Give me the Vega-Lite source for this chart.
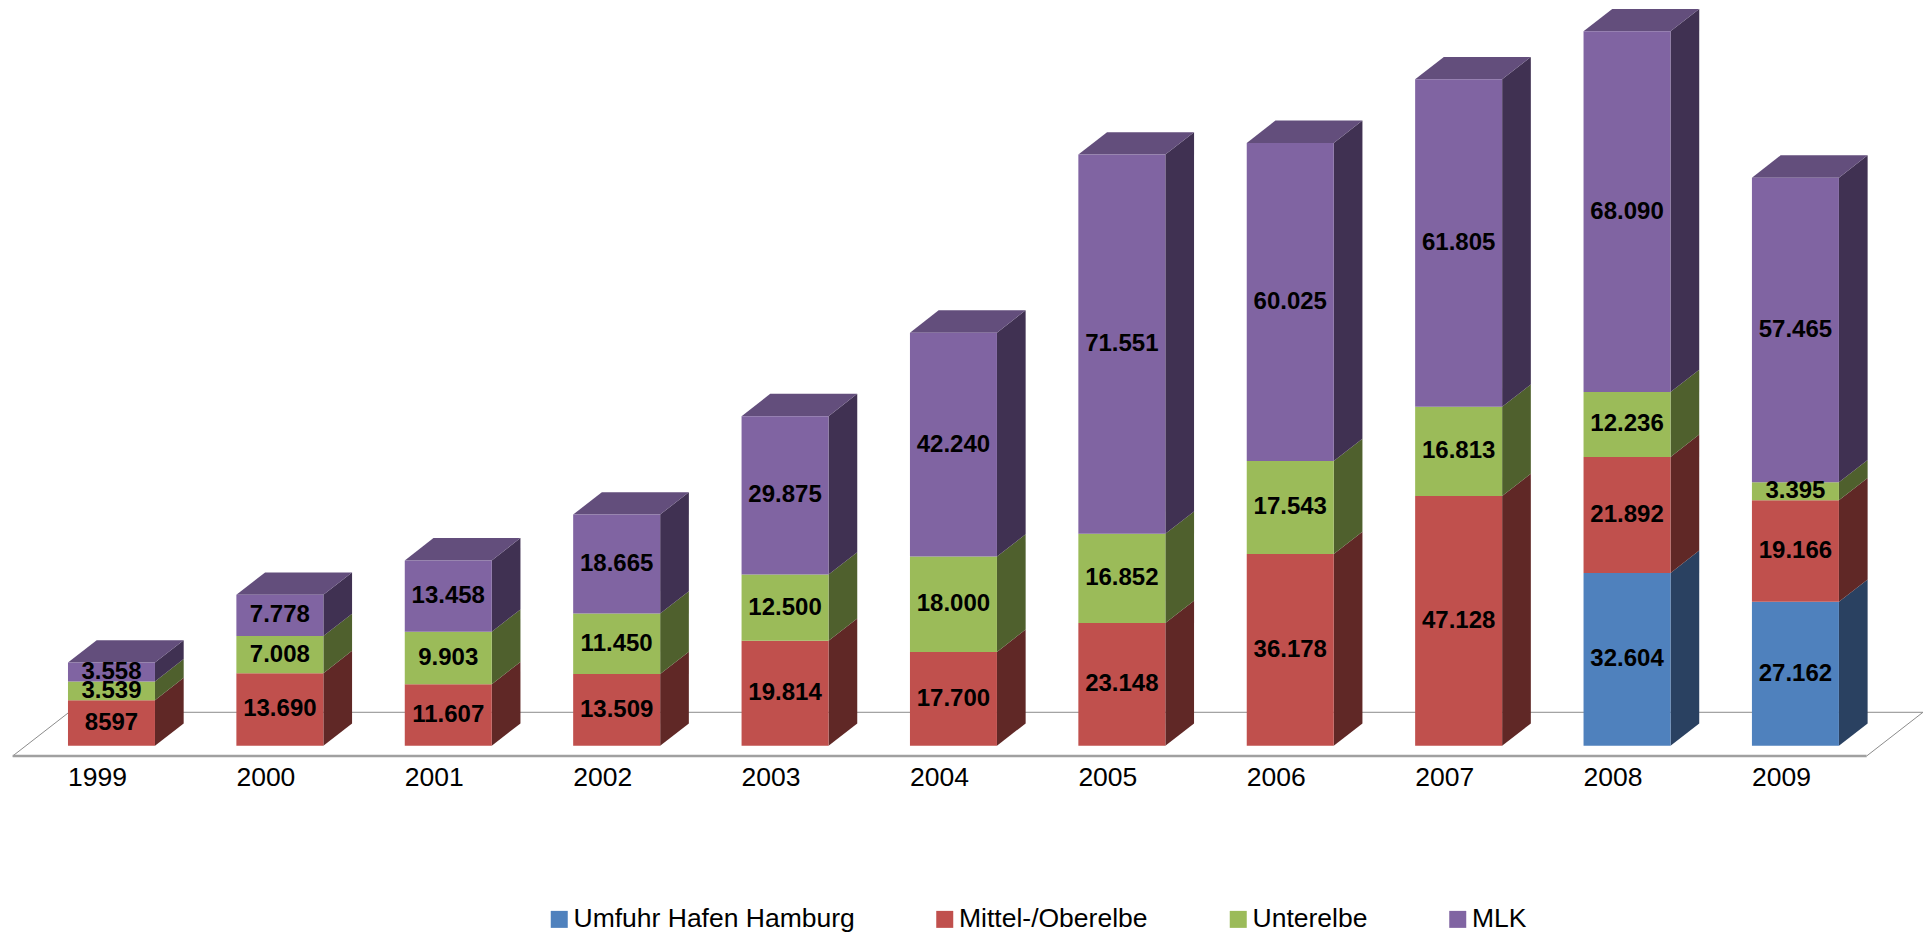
{"$schema":"https://vega.github.io/schema/vega-lite/v6.json","width":1932,"height":756,"autosize":{"type":"none"},"padding":{"left":0,"top":0,"right":0,"bottom":180},"background":"white","config":{"view":{"stroke":null},"font":"Liberation Sans","axisX":{"domain":false,"ticks":false,"grid":false,"labelFontSize":26.5,"labelColor":"black","labelFont":"Liberation Sans","labelOffset":-14.5,"labelPadding":8.5,"labelFlush":false,"labelOverlap":false}},
"datasets":{"rows":[
{"year":1999,"series":"Mittel-/Oberelbe","value":8597,"label":"8597"},{"year":1999,"series":"Unterelbe","value":3539,"label":"3.539"},{"year":1999,"series":"MLK","value":3558,"label":"3.558"},
{"year":2000,"series":"Mittel-/Oberelbe","value":13690,"label":"13.690"},{"year":2000,"series":"Unterelbe","value":7008,"label":"7.008"},{"year":2000,"series":"MLK","value":7778,"label":"7.778"},
{"year":2001,"series":"Mittel-/Oberelbe","value":11607,"label":"11.607"},{"year":2001,"series":"Unterelbe","value":9903,"label":"9.903"},{"year":2001,"series":"MLK","value":13458,"label":"13.458"},
{"year":2002,"series":"Mittel-/Oberelbe","value":13509,"label":"13.509"},{"year":2002,"series":"Unterelbe","value":11450,"label":"11.450"},{"year":2002,"series":"MLK","value":18665,"label":"18.665"},
{"year":2003,"series":"Mittel-/Oberelbe","value":19814,"label":"19.814"},{"year":2003,"series":"Unterelbe","value":12500,"label":"12.500"},{"year":2003,"series":"MLK","value":29875,"label":"29.875"},
{"year":2004,"series":"Mittel-/Oberelbe","value":17700,"label":"17.700"},{"year":2004,"series":"Unterelbe","value":18000,"label":"18.000"},{"year":2004,"series":"MLK","value":42240,"label":"42.240"},
{"year":2005,"series":"Mittel-/Oberelbe","value":23148,"label":"23.148"},{"year":2005,"series":"Unterelbe","value":16852,"label":"16.852"},{"year":2005,"series":"MLK","value":71551,"label":"71.551"},
{"year":2006,"series":"Mittel-/Oberelbe","value":36178,"label":"36.178"},{"year":2006,"series":"Unterelbe","value":17543,"label":"17.543"},{"year":2006,"series":"MLK","value":60025,"label":"60.025"},
{"year":2007,"series":"Mittel-/Oberelbe","value":47128,"label":"47.128"},{"year":2007,"series":"Unterelbe","value":16813,"label":"16.813"},{"year":2007,"series":"MLK","value":61805,"label":"61.805"},
{"year":2008,"series":"Umfuhr Hafen Hamburg","value":32604,"label":"32.604"},{"year":2008,"series":"Mittel-/Oberelbe","value":21892,"label":"21.892"},{"year":2008,"series":"Unterelbe","value":12236,"label":"12.236"},{"year":2008,"series":"MLK","value":68090,"label":"68.090"},
{"year":2009,"series":"Umfuhr Hafen Hamburg","value":27162,"label":"27.162"},{"year":2009,"series":"Mittel-/Oberelbe","value":19166,"label":"19.166"},{"year":2009,"series":"Unterelbe","value":3395,"label":"3.395"},{"year":2009,"series":"MLK","value":57465,"label":"57.465"}
],
"floor":[
{"edge":"front","year":1998.4134,"amount":-1944},{"edge":"front","year":2009.4229,"amount":-1944},
{"edge":"left","year":1998.4134,"amount":-1944},{"edge":"left","year":1998.7477,"amount":6303},
{"edge":"back","year":1998.7477,"amount":6303},{"edge":"back","year":2009.7572,"amount":6303},
{"edge":"right","year":2009.7572,"amount":6303},{"edge":"right","year":2009.4229,"amount":-1944}
]},
"resolve":{"scale":{"color":"independent"}},
"layer":[
{"data":{"name":"floor"},"transform":[{"filter":"datum.edge !== 'front'"}],"mark":{"type":"line","color":"#8c8c8c","strokeWidth":1},
"encoding":{"x":{"field":"year","type":"quantitative","scale":{"domain":[1998.338,2009.811],"nice":false,"zero":false},"axis":{"title":null,"values":[1999,2000,2001,2002,2003,2004,2005,2006,2007,2008,2009],"format":"d"}},"y":{"field":"amount","type":"quantitative","scale":{"domain":[-1944,140714],"nice":false,"zero":false},"axis":null},"detail":{"field":"edge"}}},
{"data":{"name":"floor"},"transform":[{"filter":"datum.edge === 'front'"}],"mark":{"type":"line","color":"#a0a0a0","strokeWidth":2.5},
"encoding":{"x":{"field":"year","type":"quantitative","axis":{"title":null}},"y":{"field":"amount","type":"quantitative","axis":null}}},
{"data":{"name":"rows"},"transform":[{"stack":"value","groupby":["year"],"as":["y0","y1"]},{"calculate":"[0,1]","as":"t"},{"flatten":["t"]},{"calculate":"datum.year+0.2583+datum.t*0.1704","as":"sx"},{"calculate":"datum.y0+datum.t*4208","as":"sy0"},{"calculate":"datum.y1+datum.t*4208","as":"sy1"}],
"mark":{"type":"area","interpolate":"linear"},
"encoding":{"x":{"field":"sx","type":"quantitative","axis":{"title":null}},"y":{"field":"sy0","type":"quantitative","axis":null,"stack":null},"y2":{"field":"sy1"},"detail":{"field":"year"},"color":{"field":"series","type":"nominal","legend":null,"scale":{"domain":["Umfuhr Hafen Hamburg","Mittel-/Oberelbe","Unterelbe","MLK"],"range":["#2A4161","#602826","#4F602D","#403152"]}}}},
{"data":{"name":"rows"},"transform":[{"stack":"value","groupby":["year"],"as":["y0","y1"]},{"filter":"datum.series === 'MLK'"},{"calculate":"[0,1]","as":"t"},{"flatten":["t"]},{"calculate":"datum.year-0.2583+datum.t*0.1704","as":"tx0"},{"calculate":"datum.year+0.2583+datum.t*0.1704","as":"tx1"},{"calculate":"datum.y1+datum.t*4208","as":"ty"}],
"mark":{"type":"area","orient":"horizontal","interpolate":"linear"},
"encoding":{"y":{"field":"ty","type":"quantitative","axis":null,"stack":null},"x":{"field":"tx0","type":"quantitative","axis":{"title":null},"stack":null},"x2":{"field":"tx1"},"detail":{"field":"year"},"color":{"field":"series","type":"nominal","legend":null,"scale":{"domain":["MLK"],"range":["#634E7C"]}}}},
{"data":{"name":"rows"},"transform":[{"stack":"value","groupby":["year"],"as":["y0","y1"]},{"calculate":"datum.year-0.2583","as":"fx0"},{"calculate":"datum.year+0.2583","as":"fx1"}],
"mark":{"type":"rect"},
"encoding":{"x":{"field":"fx0","type":"quantitative","axis":{"title":null}},"x2":{"field":"fx1"},"y":{"field":"y0","type":"quantitative","axis":null},"y2":{"field":"y1"},"color":{"field":"series","type":"nominal","scale":{"domain":["Umfuhr Hafen Hamburg","Mittel-/Oberelbe","Unterelbe","MLK"],"range":["#4F81BD","#C0504D","#9BBB59","#8064A2"]},"legend":{"title":null,"orient":"none","legendX":546,"legendY":906,"direction":"horizontal","columns":4,"gridAlign":"each","columnPadding":76.5,"symbolType":"square","symbolSize":289,"symbolStrokeWidth":0,"labelFontSize":26.5,"labelFont":"Liberation Sans","labelColor":"black","labelOffset":1,"labelLimit":400,"rowPadding":0}}}},
{"data":{"name":"rows"},"transform":[{"stack":"value","groupby":["year"],"as":["y0","y1"]},{"calculate":"(datum.y0+datum.y1)/2","as":"mid"}],
"mark":{"type":"text","font":"Liberation Sans","fontWeight":"bold","fontSize":24,"color":"black","align":"center","baseline":"middle","dy":0},
"encoding":{"x":{"field":"year","type":"quantitative","axis":{"title":null}},"y":{"field":"mid","type":"quantitative","axis":null},"text":{"field":"label"}}}
]}
